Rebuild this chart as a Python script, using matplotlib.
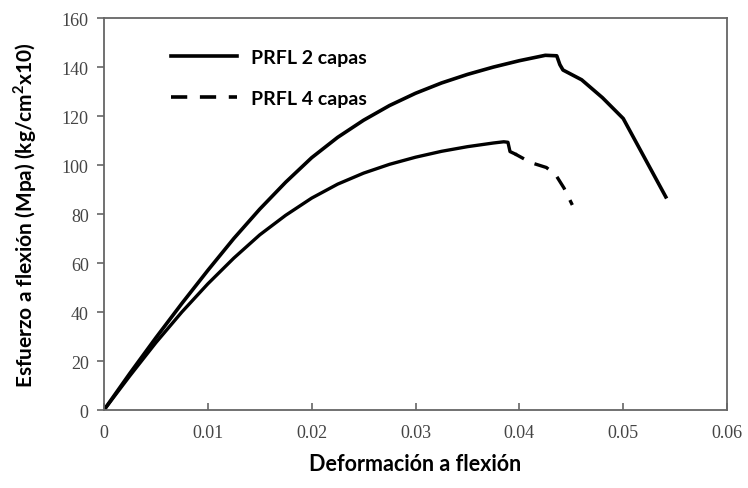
import matplotlib
matplotlib.use('Agg')
import matplotlib.pyplot as plt

# PRFL 2 capas
x_2capas = [0, 0.0025, 0.005, 0.0075, 0.01, 0.0125, 0.015, 0.0175, 0.02, 0.0225,
            0.025, 0.0275, 0.03, 0.0325, 0.035, 0.0375, 0.04, 0.0425, 0.0436,
            0.0439, 0.0442, 0.046, 0.048, 0.05, 0.0541]
y_2capas = [0, 15, 29.5, 43.5, 57, 70, 82, 93, 103, 111.3,
            118.3, 124.3, 129.3, 133.5, 137, 140, 142.6, 144.8, 144.6,
            141, 138.8, 134.8, 127.5, 119, 87]

# PRFL 4 capas
x_4capas = [0, 0.0025, 0.005, 0.0075, 0.01, 0.0125, 0.015, 0.0175, 0.02, 0.0225,
            0.025, 0.0275, 0.03, 0.0325, 0.035, 0.0375, 0.0385, 0.0389, 0.0391,
            0.0396, 0.0411, 0.0426, 0.0435, 0.0443, 0.0451]
y_4capas = [0, 14, 27.5, 40, 51.5, 62, 71.5, 79.5, 86.5, 92.2,
            96.7, 100.3, 103.2, 105.6, 107.5, 109, 109.5, 109.3, 105.5,
            104.5, 101, 99, 96, 90.6, 83.7]
n_dense = 20  # points dense enough that Excel's dashes look solid

xticks = [0, 0.01, 0.02, 0.03, 0.04, 0.05, 0.06]
xticklabels = ['0', '0.01', '0.02', '0.03', '0.04', '0.05', '0.06']
yticks = [0, 20, 40, 60, 80, 100, 120, 140, 160]

plt.rcParams['font.family'] = 'Liberation Serif'

fig = plt.figure(figsize=(7.48, 4.89), dpi=100)
ax = fig.add_axes([0.139, 0.1595, 0.833, 0.8015])

ax.plot(x_2capas, y_2capas, color='black', lw=2.6, label='PRFL 2 capas',
        solid_joinstyle='round')
ax.plot(x_4capas[:n_dense], y_4capas[:n_dense], color='black', lw=2.4,
        solid_joinstyle='round')
ax.plot(x_4capas[n_dense - 1:], y_4capas[n_dense - 1:], color='black', lw=2.4,
        linestyle=(1.5, (4.5, 3.5)))
# legend handle for dashed series
ax.plot([], [], color='black', lw=2.6, linestyle=(0, (4.5, 3.5)),
        label='PRFL 4 capas')

ax.set_xlim(0, 0.06)
ax.set_ylim(0, 160)
ax.set_xticks(xticks)
ax.set_xticklabels(xticklabels)
ax.set_yticks(yticks)

for sp in ax.spines.values():
    sp.set_color('#666666')
    sp.set_linewidth(1.3)

ax.tick_params(axis='x', direction='in', length=5, width=1.2, color='#666666',
               pad=10, labelcolor='#444444', labelsize=13)
ax.tick_params(axis='y', direction='out', length=5, width=1.2, color='#666666',
               pad=6, labelcolor='#444444', labelsize=13)

ax.set_xlabel('Deformación a flexión', fontfamily='Lato', fontweight='bold',
              fontsize=15.5, labelpad=9)
ax.set_ylabel('Esfuerzo a flexión (Mpa) (kg/cm$^\\mathregular{2}$x10)',
              fontfamily='Lato', fontweight='bold', fontsize=15, labelpad=16)

leg = ax.legend(loc='upper left', bbox_to_anchor=(0.08, 0.965), frameon=False,
                handlelength=3.4, handletextpad=0.7, labelspacing=1.2,
                prop={'family': 'Lato', 'weight': 'bold', 'size': 14})

fig.savefig('out.png', dpi=100)
